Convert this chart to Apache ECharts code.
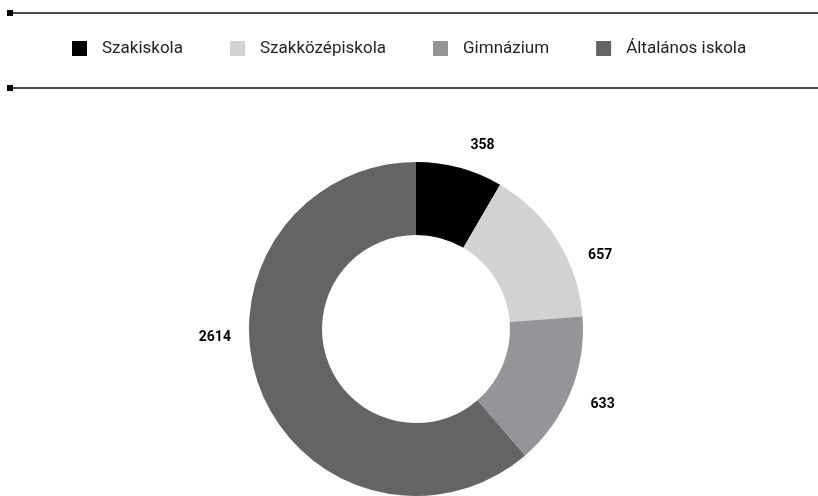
<!DOCTYPE html>
<html>
<head>
<meta charset="utf-8">
<script src="https://cdn.jsdelivr.net/npm/echarts@6/dist/echarts.min.js"></script>
<style>
    html, body {margin: 0; padding: 0; background: #fff;}
    #main {width: 818px; height: 496px;}
</style>
</head>
<body>
<div id="main"></div>
<script>
var categories = ['Szakiskola', 'Szakközépiskola', 'Gimnázium', 'Általános iskola'];
var values = [358, 657, 633, 2614];
var colors = ['#000000', '#d1d2d4', '#939598', '#636466'];

// label nudges (outside labels, no label lines)
var labelShift = [[0, 0], [6, 27], [-6, 3], [-2, -58]];

var fontName = '"Liberation Sans Narrow", "Roboto", sans-serif';

var data = [];
for (var i = 0; i < categories.length; i++) {
    data.push({name: categories[i], value: values[i], itemStyle: {color: colors[i]}});
}

var chart = echarts.init(document.getElementById('main'));

var option = {
    animation: false,
    legend: {
        left: 72,
        top: 40,
        padding: 0,
        icon: 'rect',
        itemWidth: 15,
        itemHeight: 15,
        itemGap: 47,
        selectedMode: false,
        data: categories,
        textStyle: {
            fontFamily: fontName,
            fontSize: 17,
            color: '#231f20',
            padding: [0, 0, 0, 10]
        }
    },
    // rules above and below the legend
    graphic: [
        {type: 'line', shape: {x1: 12, y1: 13, x2: 818, y2: 13}, style: {stroke: '#4a4a4a', lineWidth: 2}},
        {type: 'rect', shape: {x: 7, y: 10, width: 6, height: 6}, style: {fill: '#000'}},
        {type: 'line', shape: {x1: 12, y1: 88, x2: 818, y2: 88}, style: {stroke: '#4a4a4a', lineWidth: 2}},
        {type: 'rect', shape: {x: 7, y: 85, width: 6, height: 6}, style: {fill: '#000'}}
    ],
    series: [
        {
            type: 'pie',
            center: [416, 329],
            radius: [94, 167],
            startAngle: 90,
            clockwise: true,
            avoidLabelOverlap: false,
            data: data,
            label: {
                show: true,
                position: 'outside',
                formatter: '{c}',
                fontFamily: fontName,
                fontSize: 14,
                fontWeight: 'bold',
                color: '#000'
            },
            labelLine: {show: false, length: 23, length2: 0},
            labelLayout: function (params) {
                var s = labelShift[params.dataIndex];
                return {dx: s[0], dy: s[1]};
            },
            emphasis: {disabled: true}
        }
    ]
};

chart.setOption(option);
</script>
</body>
</html>
